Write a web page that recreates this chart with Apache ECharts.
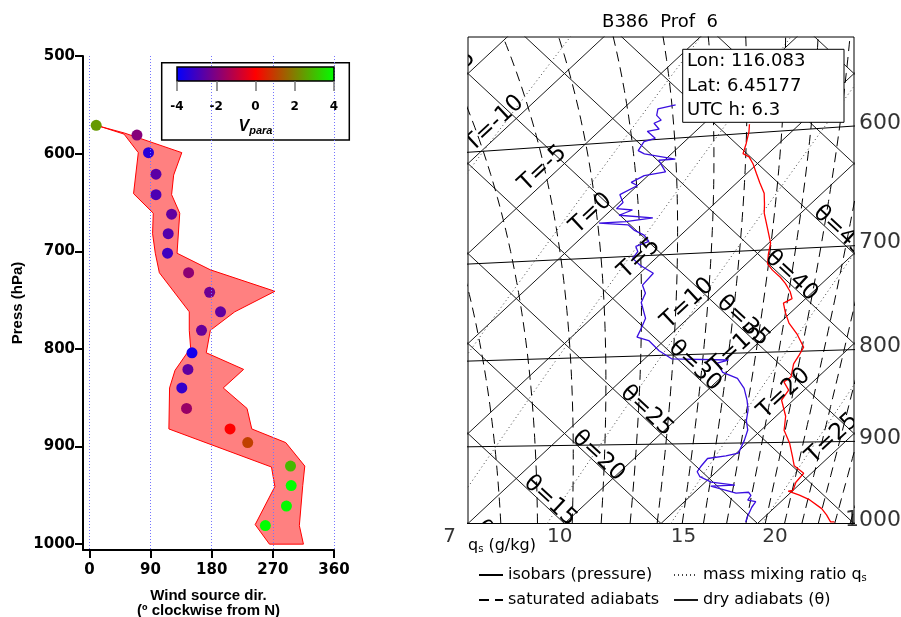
<!DOCTYPE html>
<html><head><meta charset="utf-8">
<script src="https://cdn.jsdelivr.net/npm/echarts@6/dist/echarts.min.js"></script>
<style>html,body{margin:0;padding:0;background:#fff}#c{width:901px;height:617px}</style>
</head><body><div id="c"></div>
<script>
// ---------- Left panel: wind source direction ----------
const windP   = [571, 581, 599, 621, 642, 662, 682, 702, 722, 742, 762, 781, 804, 821, 840, 861, 882, 896, 920, 940, 961, 981];
const windDir = [10, 70, 87, 98, 98, 121, 116, 115, 146, 177, 193, 165, 151, 145, 136, 143, 207, 233, 296, 297, 290, 259];
const vPara   = [2.4, -1.9, -3.4, -2.6, -2.8, -2.5, -2.7, -3.0, -1.8, -2.3, -2.5, -2.4, -3.7, -2.5, -3.2, -1.6, 0.0, 1.0, 2.9, 4.0, 3.9, 4.0];
const bandLoDir = [15, 51, 72, 65, 94, 93, 97, 103, 147, 147, 149, 126, 118, 117, 268, 273, 244, 265];
const bandLoP   = [572, 580, 599, 641, 661, 682, 702, 722, 762, 781, 799, 822, 840, 882, 921, 941, 980, 1000];
const bandHiDir = [15, 52, 136, 124, 121, 133, 129, 178, 273, 214, 178, 172, 227, 197, 232, 239, 289, 317, 314, 309, 315];
const bandHiP   = [572, 579, 599, 622, 642, 661, 702, 719, 741, 762, 781, 804, 821, 840, 861, 882, 896, 920, 940, 981, 1000];
const dirTicks   = [0, 90, 180, 270, 360];
const pressTicks = [500, 600, 700, 800, 900, 1000];
const vTicks     = [-4, -2, 0, 2, 4];
const vColors    = ['#0000ff', '#800080', '#ff0000', '#808000', '#00ff00'];

// ---------- Right panel: tephigram ----------
const tempP = [593, 599, 608, 616, 619, 625, 633, 641, 650, 659, 667, 679, 694, 704, 713, 719, 726, 732, 740, 747, 751, 760, 771, 782, 796, 804, 813, 827, 832, 841, 852, 870, 886, 901, 917, 928, 937, 948, 958, 959, 964, 970, 981, 989, 998, 998];
const tempT = [2.4, 2.8, 3.3, 3.7, 4.2, 4.8, 5.5, 6.2, 7.0, 7.6, 8.1, 9.0, 10.1, 10.6, 11.1, 11.7, 12.5, 13.1, 13.8, 14.3, 14.1, 14.7, 15.5, 16.5, 17.6, 17.8, 18.0, 18.6, 18.5, 19.2, 19.4, 20.5, 21.2, 22.2, 23.1, 23.7, 24.6, 24.7, 25.0, 24.8, 25.6, 26.4, 27.5, 28.1, 28.7, 28.9];
const dewP = [574, 576, 581, 585, 587, 592, 593, 599, 601, 608, 611, 617, 617, 627, 629, 634, 637, 644, 651, 656, 658, 662, 666, 668, 668, 671, 676, 681, 687, 691, 696, 702, 709, 717, 728, 736, 745, 761, 770, 780, 784, 795, 804, 807, 810, 820, 827, 838, 851, 862, 874, 885, 897, 912, 915, 918, 928, 934, 940, 947, 951, 952, 961, 960, 964, 970, 972, 979, 991, 998];
const dewT = [-2.5, -3.2, -2.9, -2.4, -2.6, -2.0, -2.5, -1.7, -2.1, -1.9, -1.4, 0.5, -0.3, 0.7, -0.2, -0.5, 0.0, -0.4, 0.2, 0.2, 1.1, 0.7, 2.6, 1.4, 0.1, 1.7, 2.3, 3.1, 3.7, 3.3, 3.7, 3.8, 4.6, 5.7, 5.8, 6.4, 6.7, 7.8, 8.1, 8.4, 9.2, 10.3, 11.4, 14.4, 14.0, 14.8, 15.9, 16.8, 17.6, 18.2, 18.7, 19.3, 19.7, 20.1, 19.6, 18.8, 18.9, 19.0, 19.4, 20.3, 21.7, 20.5, 22.2, 22.8, 23.1, 23.2, 23.7, 23.8, 24.1, 24.3];
const isobarLevels   = [600, 700, 800, 900, 1000];
const isothermValues = [-25, -20, -15, -10, -5, 0, 5, 10, 15, 20, 25, 30, 35];
const thetaValues    = [5, 10, 15, 20, 25, 30, 35, 40, 45, 50, 55, 60, 65];
const mixRatios      = [3, 5, 7, 10, 15, 20];
const mixLabels      = [7, 10, 15, 20];
const satBaseT       = [11.7, 13.6, 15.4, 16.9, 18.4, 19.8, 21.1, 22.2, 23.4, 24.4, 25.4, 26.4, 27.3, 28.15, 29.0, 29.8];
const tLabelValues   = [-15, -10, -5, 0, 5, 10, 15, 20, 25];
const thLabelValues  = [10, 15, 20, 25, 30, 35, 40, 45, 50];
const infoLines      = ['Lon: 116.083', 'Lat: 6.45177', 'UTC h: 6.3'];
const titleText      = 'B386  Prof  6';

// ---------- helpers (tephigram coordinates: X = T + theta, Y = theta - T) ----------
const KAPPA = 0.2857;
function thetaOf(T, p) { return (T + 273.15) * Math.pow(1000 / p, KAPPA) - 273.15; }
function tp(T, th) { return [T + th, th - T]; }
function teph(T, p) { return tp(T, thetaOf(T, p)); }
function es(T) { return 6.112 * Math.exp(17.67 * T / (T + 243.5)); }
function tFromEs(e) { const l = Math.log(e / 6.112); return 243.5 * l / (17.67 - l); }
function thetaE(T, p) {
  const e = es(T), r = 622 * e / (p - e), TK = T + 273.15;
  return TK * Math.pow(1000 / p, KAPPA) * Math.exp((3.376 / TK - 0.00254) * r * (1 + 0.00081 * r));
}
function satT(te, p) {
  let lo = -90, hi = 50;
  for (let i = 0; i < 50; i++) { const m = (lo + hi) / 2; if (thetaE(m, p) > te) hi = m; else lo = m; }
  return (lo + hi) / 2;
}
function isobarEndY(p) { // Y where isobar meets right edge X = 60
  const f = Math.pow(1000 / p, KAPPA);
  const T = (60 - 273.15 * (f - 1)) / (1 + f);
  const th = thetaOf(T, p);
  return th - T;
}
const GAP = ['-', '-'];
const pSteps = []; for (let p = 1000; p >= 500; p -= 10) pSteps.push(p);

const isoData = []; isothermValues.forEach(T => isoData.push(tp(T, -40), tp(T, 100), GAP));
const adiaData = []; thetaValues.forEach(th => adiaData.push(tp(-90, th), tp(90, th), GAP));
const isobarData = []; isobarLevels.forEach(p => { for (let T = -60; T <= 60; T += 5) isobarData.push(teph(T, p)); isobarData.push(GAP); });
const mixData = []; mixRatios.forEach(q => { pSteps.forEach(p => mixData.push(teph(tFromEs(q * p / 622), p))); mixData.push(GAP); });
const satData = []; satBaseT.forEach(T0 => { const te = thetaE(T0, 1000); pSteps.forEach(p => satData.push(teph(satT(te, p), p))); satData.push(GAP); });
const tempData = tempP.map((p, i) => teph(tempT[i], p));
const dewData = dewP.map((p, i) => teph(dewT[i], p));

const labelDefs = [];
tLabelValues.forEach(v => { const c = tp(v - 0.85, 33.6); labelDefs.push({ x: c[0], y: c[1], text: 'T=' + v, rot: 0.75 }); });
thLabelValues.forEach(v => { const c = tp(13, v + 0.5); labelDefs.push({ x: c[0], y: c[1], text: '\u03b8=' + v, rot: -0.75 }); });

const pLabelData = isobarLevels.map(p => ({ value: [60, isobarEndY(p), p], label: p === 1000 ? { position: [-9, -3] } : {} }));
const qLabelData = mixLabels.map(q => [2 * tFromEs(q * 1000 / 622), 0, q]);

const BOLD_WIDE = 'DejaVu Sans';
const HELV = 'Liberation Sans';
const TEPH_FONT = 'DejaVu Sans';

const thinLine = { color: '#1a1a1a', width: 1 };

const option = {
  animation: false,
  backgroundColor: '#ffffff',
  grid: [
    { left: 83, top: 56, width: 251, height: 494, outerBoundsMode: 'none' },
    { left: 177, top: 67, width: 157, height: 14, outerBoundsMode: 'none' },
    { left: 468, top: 37, width: 386, height: 486.5, show: true, borderColor: '#000', borderWidth: 1, backgroundColor: 'transparent', outerBoundsMode: 'none' }
  ],
  xAxis: [
    { gridIndex: 0, type: 'value', min: -9.4, max: 360,
      axisLine: { show: true, onZero: false, lineStyle: { color: '#000', width: 2 } },
      axisTick: { show: true, customValues: dirTicks, length: 8, lineStyle: { color: '#000', width: 2 } },
      axisLabel: { show: true, customValues: dirTicks, color: '#000', fontFamily: BOLD_WIDE, fontWeight: 'bold', fontSize: 15, margin: 13, formatter: v => String(v) },
      splitLine: { show: false },
      name: 'Wind source dir.\n(\u00ba clockwise from N)', nameLocation: 'middle', nameGap: 38,
      nameTextStyle: { color: '#000', fontFamily: HELV, fontWeight: 'bold', fontSize: 15, lineHeight: 15 } },
    { gridIndex: 1, type: 'value', min: -4, max: 4, interval: 2, z: 6,
      axisLine: { show: false, onZero: false },
      axisTick: { show: true, inside: false, length: 10, lineStyle: { color: '#777', width: 1.5 } },
      axisLabel: { show: true, color: '#000', fontFamily: BOLD_WIDE, fontWeight: 'bold', fontSize: 12, margin: 20 },
      splitLine: { show: false },
      name: '{v|V}{s|para}', nameLocation: 'middle', nameGap: 37,
      nameTextStyle: { rich: {
        v: { fontFamily: HELV, fontStyle: 'italic', fontWeight: 'bold', fontSize: 16, lineHeight: 18, color: '#000' },
        s: { fontFamily: HELV, fontStyle: 'italic', fontWeight: 'bold', fontSize: 11, lineHeight: 12, verticalAlign: 'bottom', color: '#000' } } } },
    { gridIndex: 2, type: 'value', min: 20, max: 60, show: false, splitLine: { show: false } }
  ],
  yAxis: [
    { gridIndex: 0, type: 'value', min: 500, max: 1006, inverse: true,
      axisLine: { show: true, onZero: false, lineStyle: { color: '#000', width: 2 } },
      axisTick: { show: true, customValues: pressTicks, length: 8, lineStyle: { color: '#000', width: 2 } },
      axisLabel: { show: true, customValues: pressTicks, color: '#000', fontFamily: BOLD_WIDE, fontWeight: 'bold', fontSize: 15, margin: 8, formatter: v => String(v) },
      splitLine: { show: false },
      name: 'Press (hPa)', nameLocation: 'middle', nameGap: 58, nameRotate: 90,
      nameTextStyle: { color: '#000', fontFamily: HELV, fontWeight: 'bold', fontSize: 15 } },
    { gridIndex: 1, type: 'value', min: 0, max: 1, show: false, splitLine: { show: false } },
    { gridIndex: 2, type: 'value', min: 0, max: 54.06, show: false, splitLine: { show: false } }
  ],
  visualMap: [{ type: 'continuous', show: false, seriesIndex: 2, dimension: 2, min: -4, max: 4, inRange: { color: vColors } }],
  legend: [
    { data: ['isobars (pressure)'], left: 478, top: 567 },
    { data: ['mass mixing ratio qs'], left: 673, top: 567 },
    { data: ['saturated adiabats'], left: 478, top: 592 },
    { data: ['dry adiabats (\u03b8)'], left: 673, top: 592 }
  ].map(l => Object.assign({
    itemWidth: 24, itemHeight: 14, itemGap: 0, padding: 0, selectedMode: false,
    itemStyle: { opacity: 0, borderWidth: 0 },
    textStyle: { color: '#000', fontFamily: TEPH_FONT, fontSize: 16,
      rich: { s: { fontFamily: TEPH_FONT, fontSize: 10, color: '#000', lineHeight: 10, verticalAlign: 'bottom' } } },
    formatter: n => n === 'mass mixing ratio qs' ? 'mass mixing ratio q{s|s}' : n
  }, l)),
  series: [
    // 0: dotted guide lines at tick directions
    { type: 'line', xAxisIndex: 0, yAxisIndex: 0, data: [], z: 1, silent: true, symbol: 'none',
      markLine: { silent: true, symbol: ['none', 'none'], label: { show: false },
        lineStyle: { color: '#7474ff', type: [1, 2], width: 1 },
        emphasis: { disabled: true },
        data: dirTicks.map(v => ({ xAxis: v })) } },
    // 1: direction range band
    { type: 'custom', xAxisIndex: 0, yAxisIndex: 0, z: 2, silent: true, data: [[0, 500]],
      renderItem: (params, api) => {
        const pts = [];
        for (let i = 0; i < bandLoP.length; i++) pts.push(api.coord([bandLoDir[i], bandLoP[i]]));
        for (let i = bandHiP.length - 1; i >= 0; i--) pts.push(api.coord([bandHiDir[i], bandHiP[i]]));
        return { type: 'polygon', shape: { points: pts }, style: { fill: '#ff8080', stroke: '#ff0000', lineWidth: 1 } };
      } },
    // 2: points coloured by V_para
    { type: 'scatter', xAxisIndex: 0, yAxisIndex: 0, z: 3, symbol: 'circle', symbolSize: 11, silent: true,
      itemStyle: { opacity: 1 },
      data: windP.map((p, i) => [windDir[i], p, vPara[i]]) },
    // 3: colour bar
    { type: 'custom', xAxisIndex: 1, yAxisIndex: 1, z: 5, silent: true, data: [[0, 0]],
      renderItem: (params, api) => {
        const a = api.coord([vTicks[0], 1]), b = api.coord([vTicks[vTicks.length - 1], 0]);
        const stops = vColors.map((c, i) => ({ offset: i / (vColors.length - 1), color: c }));
        return { type: 'rect', shape: { x: a[0], y: a[1], width: b[0] - a[0], height: b[1] - a[1] },
          style: { fill: new echarts.graphic.LinearGradient(0, 0, 1, 0, stops), stroke: '#000', lineWidth: 1.5 } };
      } },
    // tephigram background lines
    { name: 'isotherms', type: 'line', xAxisIndex: 2, yAxisIndex: 2, data: isoData, z: 2, silent: true,
      symbol: 'none', showSymbol: false, connectNulls: false, lineStyle: thinLine },
    { name: 'dry adiabats (\u03b8)', type: 'line', xAxisIndex: 2, yAxisIndex: 2, data: adiaData, z: 2, silent: true,
      symbol: 'none', showSymbol: false, connectNulls: false, lineStyle: thinLine, itemStyle: { color: '#1a1a1a' } },
    { name: 'isobars (pressure)', type: 'line', xAxisIndex: 2, yAxisIndex: 2, data: isobarData, z: 2, silent: true,
      symbol: 'none', showSymbol: false, connectNulls: false, lineStyle: { color: '#000', width: 1 }, itemStyle: { color: '#000' } },
    { name: 'mass mixing ratio qs', type: 'line', xAxisIndex: 2, yAxisIndex: 2, data: mixData, z: 2, silent: true,
      symbol: 'none', showSymbol: false, connectNulls: false, lineStyle: { color: '#444', width: 1, type: [1, 3] }, itemStyle: { color: '#444' } },
    { name: 'saturated adiabats', type: 'line', xAxisIndex: 2, yAxisIndex: 2, data: satData, z: 2, silent: true,
      symbol: 'none', showSymbol: false, connectNulls: false, lineStyle: { color: '#000', width: 1, type: [10, 6] }, itemStyle: { color: '#000' } },
    // profiles
    { name: 'dew point', type: 'line', xAxisIndex: 2, yAxisIndex: 2, data: dewData, z: 3, silent: true,
      symbol: 'none', showSymbol: false, lineStyle: { color: '#3a0fe0', width: 1.3 } },
    { name: 'temperature', type: 'line', xAxisIndex: 2, yAxisIndex: 2, data: tempData, z: 3, silent: true,
      symbol: 'none', showSymbol: false, lineStyle: { color: '#ff0000', width: 1.3 } },
    // line labels, clipped to the diagram
    { type: 'custom', xAxisIndex: 2, yAxisIndex: 2, z: 4, silent: true, clip: true,
      data: labelDefs.map((d, i) => [d.x, d.y, i]),
      renderItem: (params, api) => {
        const d = labelDefs[params.dataIndex];
        const c = api.coord([d.x, d.y]);
        return { type: 'text', x: c[0], y: c[1], rotation: d.rot,
          style: { text: d.text, fill: '#000', font: '23px "' + TEPH_FONT + '"', align: 'center', verticalAlign: 'middle', textAlign: 'center', textVerticalAlign: 'middle' } };
      } },
    // pressure labels at right end of isobars
    { type: 'scatter', xAxisIndex: 2, yAxisIndex: 2, z: 4, silent: true, clip: false, symbolSize: 0,
      data: pLabelData,
      label: { show: true, position: [5, -3], align: 'left', verticalAlign: 'middle', color: '#000',
        fontFamily: TEPH_FONT, fontSize: 22, formatter: p => String(p.value[2]) } },
    // mixing ratio labels at 1000 hPa
    { type: 'scatter', xAxisIndex: 2, yAxisIndex: 2, z: 4, silent: true, clip: false, symbolSize: 0,
      data: qLabelData,
      label: { show: true, position: [0, 3], align: 'left', verticalAlign: 'top', color: '#000',
        fontFamily: TEPH_FONT, fontSize: 20, formatter: p => String(p.value[2]) } }
  ],
  graphic: [
    { type: 'rect', z: 4, shape: { x: 161.7, y: 62.7, width: 187.6, height: 77.3 }, style: { fill: '#fff', stroke: '#000', lineWidth: 1.5 } },
    { type: 'text', z: 10, x: 660, y: 22, style: { text: titleText, fill: '#000', font: '18px "' + TEPH_FONT + '"', align: 'center', verticalAlign: 'middle', textAlign: 'center', textVerticalAlign: 'middle' } },
    { type: 'rect', z: 100, shape: { x: 682.7, y: 49.3, width: 161.3, height: 73 }, style: { fill: '#fff', stroke: '#000', lineWidth: 1 } },
    { type: 'text', z: 101, x: 687, y: 61.7, style: { text: infoLines[0], fill: '#000', font: '18px "' + TEPH_FONT + '"', verticalAlign: 'middle', textVerticalAlign: 'middle' } },
    { type: 'text', z: 101, x: 687, y: 86, style: { text: infoLines[1], fill: '#000', font: '18px "' + TEPH_FONT + '"', verticalAlign: 'middle', textVerticalAlign: 'middle' } },
    { type: 'text', z: 101, x: 687, y: 110, style: { text: infoLines[2], fill: '#000', font: '18px "' + TEPH_FONT + '"', verticalAlign: 'middle', textVerticalAlign: 'middle' } },
    { type: 'text', z: 10, x: 468, y: 546, style: { text: 'q{s|s} (g/kg)', fill: '#000', font: '16px "' + TEPH_FONT + '"', verticalAlign: 'middle', textVerticalAlign: 'middle',
        rich: { s: { fontSize: 10, fontFamily: TEPH_FONT, verticalAlign: 'bottom', lineHeight: 10 } } } }
  ]
};
const chart = echarts.init(document.getElementById('c'), null, { renderer: 'canvas', width: 901, height: 617 });
chart.setOption(option);
</script>
</body></html>
